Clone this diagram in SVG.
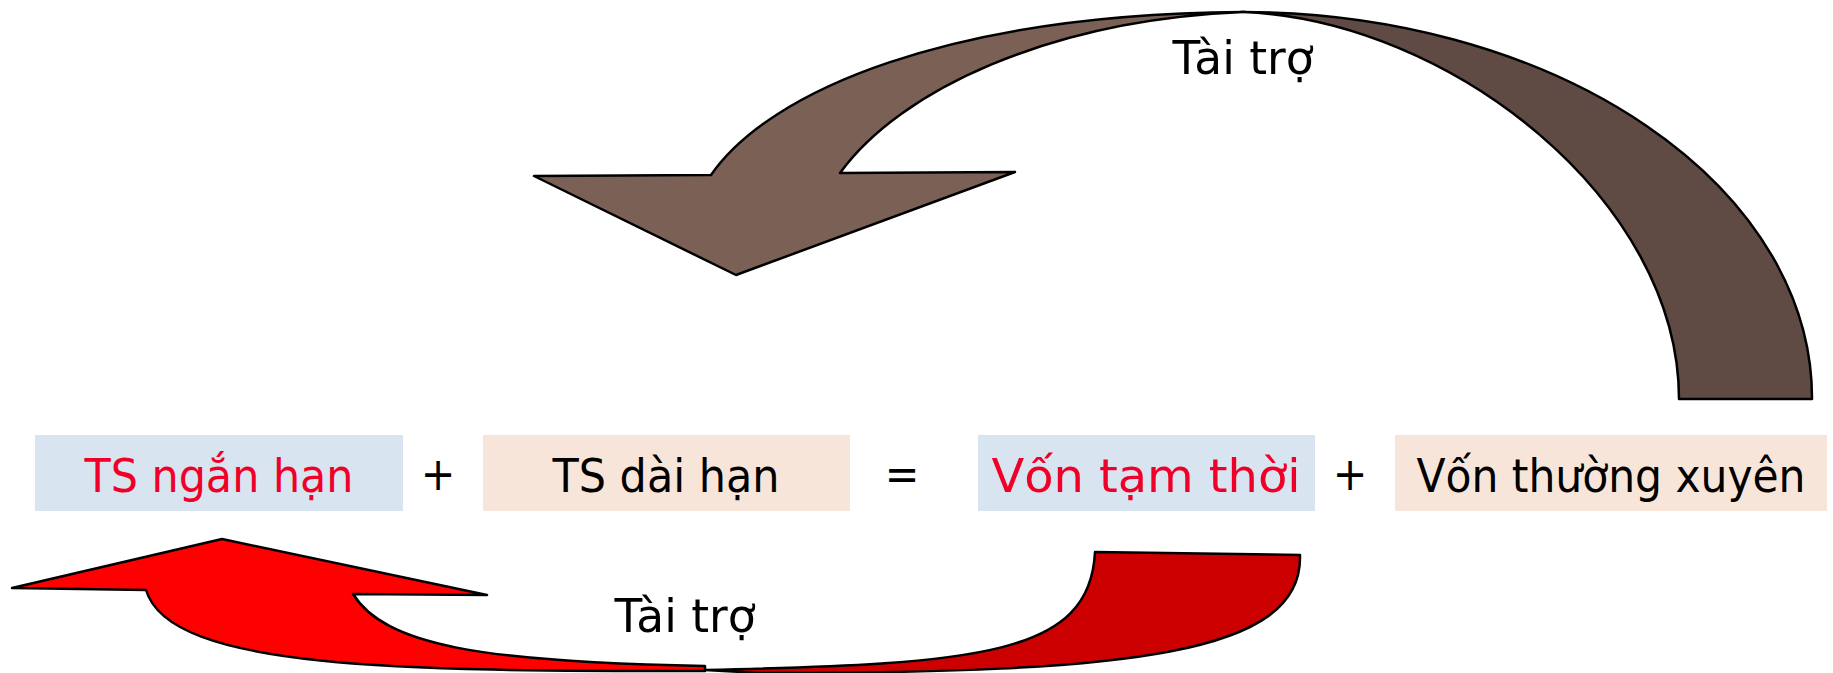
<svg xmlns="http://www.w3.org/2000/svg" width="1833" height="673" viewBox="0 0 1833 673">
<style>
.txt{font-family:"DejaVu Sans Condensed","DejaVu Sans",sans-serif;font-size:46px;text-anchor:middle;fill:#000}
.red{fill:#F00028}
.blue{fill:#D8E4EF}
.peach{fill:#F8E5D9}
.arw{stroke:#000;stroke-width:2.5;stroke-linejoin:round}
</style>
<rect width="1833" height="673" fill="#fff"/>
<g id="connectors">
  <g id="arrow-top">
    <path class="arw" fill="#5F4B43" d="M1679,399 L1812,399 A569,386 0 0 0 1243,12 C1450,20 1679,200 1679,399 Z"/>
    <path class="arw" fill="#7A6055" d="M711,175 C770,90 950,14 1243,12 C1050,20 900,90 840,173 L1015,172 L736,275 L534,176 Z"/>
    <text class="txt" x="1243" y="74" textLength="141" lengthAdjust="spacingAndGlyphs">Tài trợ</text>
  </g>
  <g id="arrow-bottom">
    <path class="arw" fill="#CC0000" d="M1095,552 L1300,555 C1303,655 1130,673 760,673 L705,670 C980,664 1090,655 1095,552 Z"/>
    <path class="arw" fill="#FF0000" d="M222,539 L487,595 L353,594 C385,645 480,662 705,666 L705,671 C400,671 170,670 146,590 L12,588 Z"/>
    <text class="txt" x="685" y="632" textLength="141" lengthAdjust="spacingAndGlyphs">Tài trợ</text>
  </g>
</g>
<g id="node-ts-ngan-han">
  <rect class="blue" x="35" y="435" width="368" height="76"/>
  <text class="txt red" x="219" y="492" textLength="269" lengthAdjust="spacingAndGlyphs">TS ngắn hạn</text>
</g>
<g id="op-plus-1"><text class="txt" x="438" y="490">+</text></g>
<g id="node-ts-dai-han">
  <rect class="peach" x="483" y="435" width="367" height="76"/>
  <text class="txt" x="666" y="492" textLength="227" lengthAdjust="spacingAndGlyphs">TS dài hạn</text>
</g>
<g id="op-equal"><text class="txt" x="902" y="490">=</text></g>
<g id="node-von-tam-thoi">
  <rect class="blue" x="978" y="435" width="337" height="76"/>
  <text class="txt red" x="1146" y="492" textLength="309" lengthAdjust="spacingAndGlyphs">Vốn tạm thời</text>
</g>
<g id="op-plus-2"><text class="txt" x="1350" y="490">+</text></g>
<g id="node-von-thuong-xuyen">
  <rect class="peach" x="1395" y="435" width="432" height="76"/>
  <text class="txt" x="1611" y="492" textLength="389" lengthAdjust="spacingAndGlyphs">Vốn thường xuyên</text>
</g>
</svg>
